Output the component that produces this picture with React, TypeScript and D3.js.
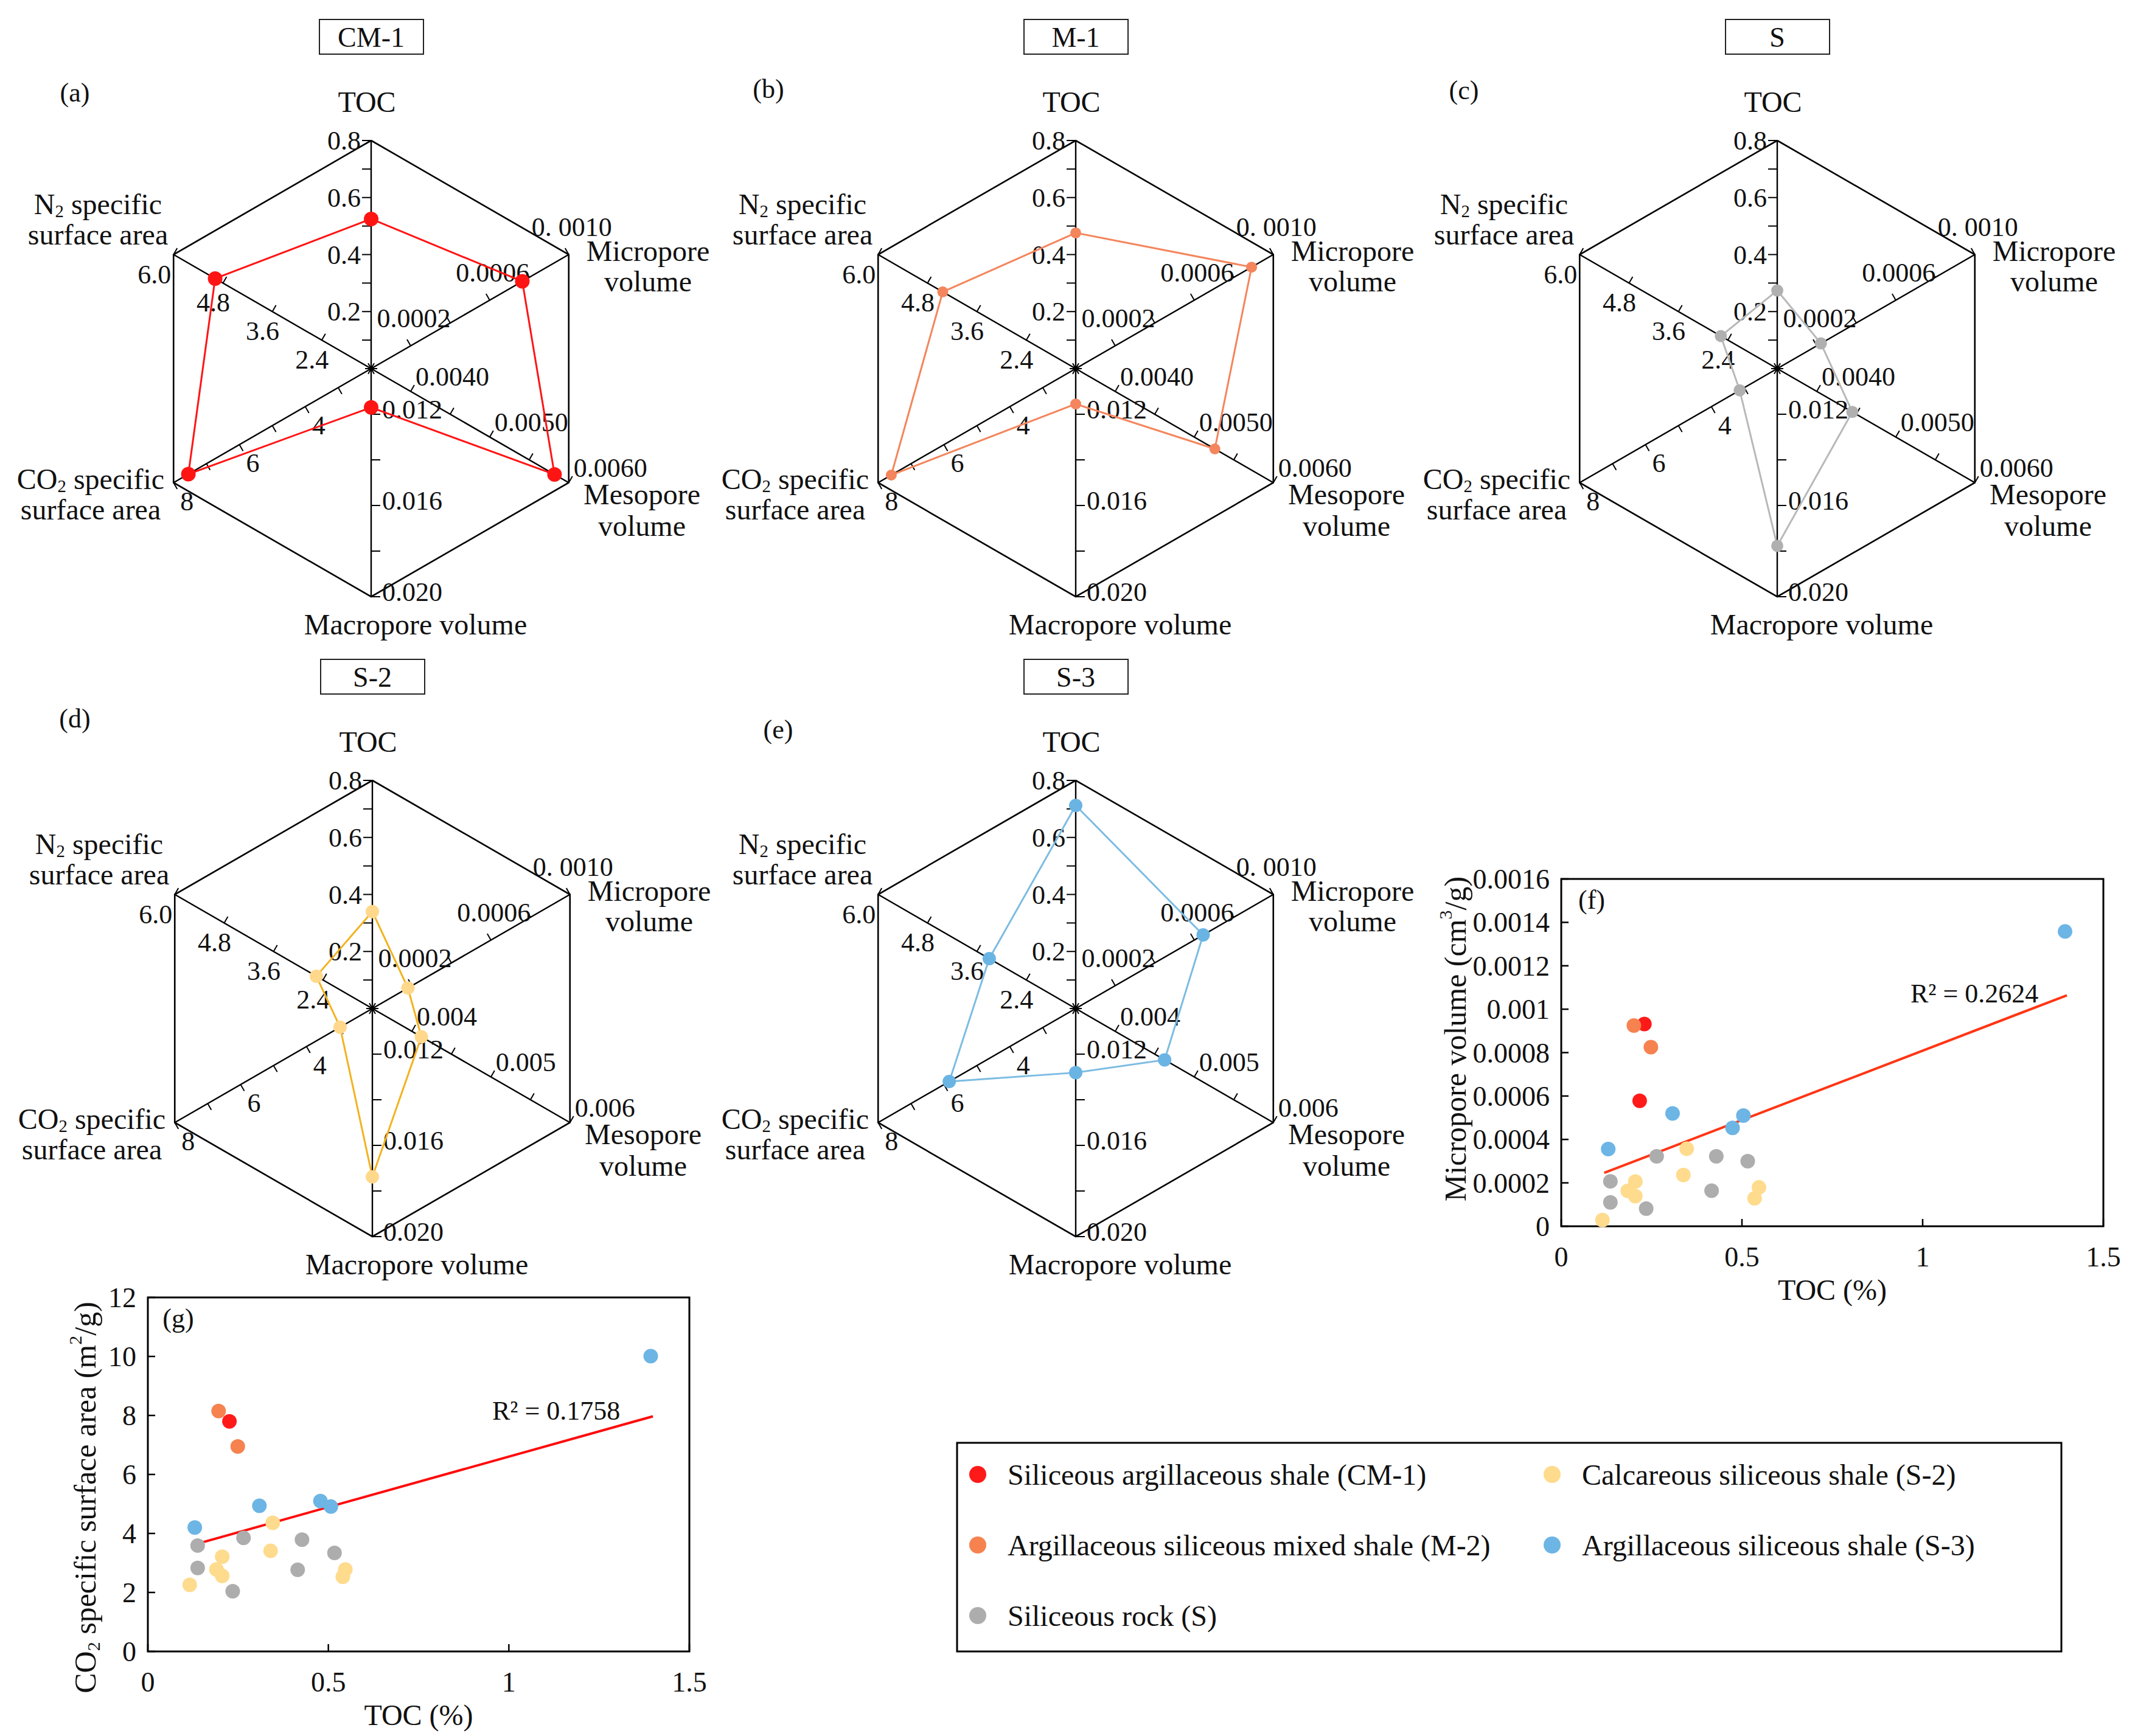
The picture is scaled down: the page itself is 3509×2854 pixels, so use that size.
import { useEffect, useRef } from 'react';
import * as d3 from 'd3';

const W = 3509;
const H = 2854;
const FONT = "'Liberation Serif', 'Times New Roman', 'DejaVu Serif', serif";

// ---- radar panels (group averages) ----
const radarTitles = ['CM-1', 'M-1', 'S', 'S-2', 'S-3'];
const radarLetters = ['(a)', '(b)', '(c)', '(d)', '(e)'];
const tocAvg = [0.525, 0.476, 0.274, 0.34, 0.712];
const microAvg = [0.000765, 0.00089, 0.000221, 0.00018, 0.000645];
const mesoAvg = [0.00582, 0.00526, 0.00445, 0.00412, 0.004625];
const macroAvg = [0.0117, 0.01155, 0.01777, 0.01738, 0.01281];
const co2Avg = [7.55, 7.6, 3.14, 2.98, 5.84];
const n2Avg = [4.99, 4.43, 2.57, 2.56, 3.3];

// axis order: TOC, micropore, mesopore, macropore, CO2, N2
const axisDomains: [number, number][] = [
  [0, 0.8],
  [0, 0.001],
  [0.0035, 0.006],
  [0.01, 0.02],
  [2, 8],
  [1.2, 6.0],
];
const axisTickCounts = [8, 5, 5, 5, 6, 4];
const tocTicks = [0.2, 0.4, 0.6, 0.8];
const tocTickLabels = ['0.2', '0.4', '0.6', '0.8'];
const microTicks = [0.0002, 0.0006, 0.001];
const microTickLabels = ['0.0002', '0.0006', '0. 0010'];
const mesoTicks = [0.004, 0.005, 0.006];
const mesoTickLabelsLong = ['0.0040', '0.0050', '0.0060'];
const mesoTickLabelsShort = ['0.004', '0.005', '0.006'];
const macroTicks = [0.012, 0.016, 0.02];
const macroTickLabels = ['0.012', '0.016', '0.020'];
const co2Ticks = [4, 6, 8];
const co2TickLabels = ['4', '6', '8'];
const n2Ticks = [2.4, 3.6, 4.8, 6.0];
const n2TickLabels = ['2.4', '3.6', '4.8', '6.0'];

// ---- scatter groups ----
const groupNames = [
  'Siliceous argillaceous shale (CM-1)',
  'Argillaceous siliceous mixed shale (M-2)',
  'Siliceous rock (S)',
  'Calcareous siliceous shale (S-2)',
  'Argillaceous siliceous shale (S-3)',
];
const groupColors = ['#ff1a1a', '#f5824f', '#adadad', '#fedb8d', '#6db5e5'];

// (f) TOC vs micropore volume
const microCM1: [number, number][] = [[0.23, 0.000932], [0.217, 0.000578]];
const microM2: [number, number][] = [[0.201, 0.000925], [0.248, 0.000825]];
const microS: [number, number][] = [
  [0.136, 0.000207], [0.136, 0.00011], [0.235, 0.0000815], [0.264, 0.000322],
  [0.429, 0.000322], [0.416, 0.000164], [0.516, 0.0003],
];
const microS2: [number, number][] = [
  [0.114, 0.0000286], [0.184, 0.000163], [0.205, 0.000206], [0.205, 0.000139],
  [0.347, 0.000357], [0.338, 0.000236], [0.535, 0.000129], [0.547, 0.000179],
];
const microS3: [number, number][] = [
  [1.394, 0.001358], [0.13, 0.000356], [0.308, 0.00052], [0.474, 0.000453], [0.504, 0.00051],
];
const microFit: [number, number][] = [[0.119, 0.000246], [1.399, 0.001064]];
const microR2 = 'R² = 0.2624';

// (g) TOC vs CO2 specific surface area
const co2CM1: [number, number][] = [[0.226, 7.8]];
const co2M2: [number, number][] = [[0.196, 8.15], [0.249, 6.95]];
const co2S: [number, number][] = [
  [0.138, 3.59], [0.138, 2.83], [0.235, 2.04], [0.265, 3.85], [0.427, 3.79],
  [0.415, 2.77], [0.517, 3.34],
];
const co2S2: [number, number][] = [
  [0.116, 2.26], [0.19, 2.78], [0.206, 3.21], [0.206, 2.56], [0.346, 4.36],
  [0.34, 3.41], [0.54, 2.53], [0.547, 2.78],
];
const co2S3: [number, number][] = [
  [1.393, 10.01], [0.13, 4.2], [0.309, 4.94], [0.478, 5.1], [0.507, 4.91],
];
const co2Fit: [number, number][] = [[0.119, 3.59], [1.399, 7.97]];
const co2R2 = 'R² = 0.1758';

const xTicks = [0, 0.5, 1, 1.5];
const xTickLabels = ['0', '0.5', '1', '1.5'];
const microYTicks = [0, 0.0002, 0.0004, 0.0006, 0.0008, 0.001, 0.0012, 0.0014, 0.0016];
const microYTickLabels = ['0', '0.0002', '0.0004', '0.0006', '0.0008', '0.001', '0.0012', '0.0014', '0.0016'];
const co2YTicks = [0, 2, 4, 6, 8, 10, 12];
const co2YTickLabels = ['0', '2', '4', '6', '8', '10', '12'];

// layout
const R = 375;
const panelCenters: [number, number][] = [[610, 606], [1768, 606], [2921, 606], [612, 1658], [1768, 1658]];
const letterPos: [number, number][] = [[123, 152], [1263, 146], [2406, 148], [123, 1181], [1279, 1199]];
const lineColors = ['#ff1414', '#f4855c', '#b8b8b8', '#f3b21f', '#7dbce2'];
const dotColors = ['#ff1414', '#f4855c', '#b0b0b0', '#ffd88c', '#6ab4e4'];
const dotRadius = [12, 9, 10, 11, 11];
const axisAngles = [90, 30, -30, -90, 210, 150];
const tickSide = [1, 1, 1, 1, 1, -1];

type Sel = d3.Selection<SVGGElement, unknown, null, undefined>;

function addText(
  g: Sel,
  x: number,
  y: number,
  parts: { t: string; sub?: boolean; sup?: boolean }[],
  size: number,
  anchor = 'middle',
) {
  const t = g
    .append('text')
    .attr('x', x)
    .attr('y', y)
    .attr('text-anchor', anchor)
    .attr('dominant-baseline', 'central')
    .style('font-family', FONT)
    .attr('font-size', size)
    .attr('fill', '#111');
  let shift = 0;
  parts.forEach((p) => {
    const target = p.sub ? size * 0.25 : p.sup ? -size * 0.35 : 0;
    t.append('tspan')
      .attr('dy', target - shift)
      .attr('font-size', p.sub || p.sup ? size * 0.6 : size)
      .text(p.t);
    shift = target;
  });
  return t;
}

function drawRadar(g: Sel, i: number) {
  const [cx, cy] = panelCenters[i];
  const values = [tocAvg[i], microAvg[i], mesoAvg[i], macroAvg[i], co2Avg[i], n2Avg[i]];
  const scales = axisDomains.map((d) => d3.scaleLinear().domain(d).range([0, R]));
  const pt = (k: number, r: number): [number, number] => {
    const a = (axisAngles[k] * Math.PI) / 180;
    return [cx + r * Math.cos(a), cy - r * Math.sin(a)];
  };

  // title box
  g.append('rect')
    .attr('x', cx - 85)
    .attr('y', cy - 574)
    .attr('width', 171)
    .attr('height', 57)
    .attr('fill', 'none')
    .attr('stroke', '#222')
    .attr('stroke-width', 2);
  addText(g, cx, cy - 545, [{ t: radarTitles[i] }], 46);
  addText(g, letterPos[i][0], letterPos[i][1], [{ t: radarLetters[i] }], 44);

  // hexagon and spokes
  const verts = axisAngles.map((_, k) => pt(k, R));
  g.append('path')
    .attr('d', d3.line()([...verts, verts[0]]) ?? '')
    .attr('fill', 'none')
    .attr('stroke', '#000')
    .attr('stroke-width', 2.6)
    .attr('stroke-linejoin', 'miter');
  verts.forEach((v) => {
    g.append('line')
      .attr('x1', cx).attr('y1', cy).attr('x2', v[0]).attr('y2', v[1])
      .attr('stroke', '#000').attr('stroke-width', 2.4);
  });
  // centre star
  [0, 60, 120].forEach((a) => {
    const r = (a * Math.PI) / 180;
    g.append('line')
      .attr('x1', cx - 10 * Math.cos(r)).attr('y1', cy - 10 * Math.sin(r))
      .attr('x2', cx + 10 * Math.cos(r)).attr('y2', cy + 10 * Math.sin(r))
      .attr('stroke', '#000').attr('stroke-width', 2);
  });

  // ticks
  axisTickCounts.forEach((n, k) => {
    const a = ((axisAngles[k] + 90 * tickSide[k]) * Math.PI) / 180;
    const len = k === 0 || k === 3 ? 15 : 12;
    d3.range(1, n + 1).forEach((j) => {
      const [x, y] = pt(k, (R * j) / n);
      g.append('line')
        .attr('x1', x).attr('y1', y)
        .attr('x2', x + len * Math.cos(a)).attr('y2', y - len * Math.sin(a))
        .attr('stroke', '#000').attr('stroke-width', 2);
    });
  });

  // tick labels
  const TS = 44;
  tocTicks.forEach((v, j) => {
    const [x, y] = pt(0, scales[0](v));
    addText(g, x - 17, y, [{ t: tocTickLabels[j] }], TS, 'end');
  });
  microTicks.forEach((v, j) => {
    const [x, y] = pt(1, scales[1](v));
    addText(g, x + 5, y - 46, [{ t: microTickLabels[j] }], TS);
  });
  const mesoLabels = i >= 3 ? mesoTickLabelsShort : mesoTickLabelsLong;
  mesoTicks.forEach((v, j) => {
    const [x, y] = pt(2, scales[2](v));
    addText(g, x + 8, y - 25, [{ t: mesoLabels[j] }], TS, 'start');
  });
  macroTicks.forEach((v, j) => {
    const [x, y] = pt(3, scales[3](v));
    addText(g, x + 18, y - 8, [{ t: macroTickLabels[j] }], TS, 'start');
  });
  co2Ticks.forEach((v, j) => {
    const [x, y] = pt(4, scales[4](v));
    addText(g, x + 22, y + 30, [{ t: co2TickLabels[j] }], TS);
  });
  n2Ticks.forEach((v, j) => {
    const [x, y] = pt(5, scales[5](v));
    if (j === n2Ticks.length - 1) addText(g, x - 4, y + 32, [{ t: n2TickLabels[j] }], TS, 'end');
    else addText(g, x - 16, y + 32, [{ t: n2TickLabels[j] }], TS);
  });

  // axis names
  const NS = 48;
  addText(g, cx - 7, cy - 439, [{ t: 'TOC' }], NS);
  addText(g, cx + 455, cy - 194, [{ t: 'Micropore' }], NS);
  addText(g, cx + 455, cy - 144, [{ t: 'volume' }], NS);
  addText(g, cx + 445, cy + 206, [{ t: 'Mesopore' }], NS);
  addText(g, cx + 445, cy + 258, [{ t: 'volume' }], NS);
  addText(g, cx + 73, cy + 420, [{ t: 'Macropore volume' }], NS);
  addText(g, cx - 461, cy + 181, [{ t: 'CO' }, { t: '2', sub: true }, { t: ' specific' }], NS);
  addText(g, cx - 461, cy + 231, [{ t: 'surface area' }], NS);
  addText(g, cx - 449, cy - 271, [{ t: 'N' }, { t: '2', sub: true }, { t: ' specific' }], NS);
  addText(g, cx - 449, cy - 221, [{ t: 'surface area' }], NS);

  // data polygon
  const pts = values.map((v, k) => pt(k, scales[k](v)));
  g.append('path')
    .attr('d', d3.line()([...pts, pts[0]]) ?? '')
    .attr('fill', 'none')
    .attr('stroke', lineColors[i])
    .attr('stroke-width', 3);
  g.selectAll('circle.rd')
    .data(pts)
    .join('circle')
    .attr('class', 'rd')
    .attr('cx', (d) => d[0])
    .attr('cy', (d) => d[1])
    .attr('r', dotRadius[i])
    .attr('fill', dotColors[i]);
}

interface ScatterOpts {
  x0: number; x1: number; y0: number; y1: number;
  yMax: number; yTicks: number[]; yLabels: string[];
  groups: [number, number][][]; fit: [number, number][]; r2: string; r2x: number; r2y: number;
  letter: string; yTitle: { t: string; sub?: boolean; sup?: boolean }[]; yTitleX: number; yTitleY: number;
  fitColor: string;
}

function drawScatter(g: Sel, o: ScatterOpts) {
  const x = d3.scaleLinear().domain([0, 1.5]).range([o.x0, o.x1]);
  const y = d3.scaleLinear().domain([0, o.yMax]).range([o.y0, o.y1]);
  g.append('rect')
    .attr('x', o.x0).attr('y', o.y1)
    .attr('width', o.x1 - o.x0).attr('height', o.y0 - o.y1)
    .attr('fill', 'none').attr('stroke', '#000').attr('stroke-width', 3);
  xTicks.forEach((v, j) => {
    g.append('line')
      .attr('x1', x(v)).attr('x2', x(v)).attr('y1', o.y0).attr('y2', o.y0 - 12)
      .attr('stroke', '#000').attr('stroke-width', 2.5);
    addText(g, x(v), o.y0 + 50, [{ t: xTickLabels[j] }], 46);
  });
  o.yTicks.forEach((v, j) => {
    g.append('line')
      .attr('x1', o.x0).attr('x2', o.x0 + 12).attr('y1', y(v)).attr('y2', y(v))
      .attr('stroke', '#000').attr('stroke-width', 2.5);
    addText(g, o.x0 - 19, y(v), [{ t: o.yLabels[j] }], 46, 'end');
  });
  addText(g, (o.x0 + o.x1) / 2, o.y0 + 104, [{ t: 'TOC (%)' }], 48);
  const yt = addText(g, 0, 0, o.yTitle, 50);
  yt.attr('transform', `translate(${o.yTitleX},${o.yTitleY}) rotate(-90)`);
  addText(g, o.x0 + 50, o.y1 + 34, [{ t: o.letter }], 44);

  g.append('path')
    .attr('d', d3.line().x((d) => x(d[0])).y((d) => y(d[1]))(o.fit) ?? '')
    .attr('stroke', o.fitColor).attr('stroke-width', 4).attr('fill', 'none');
  o.groups.forEach((pts, gi) => {
    g.append('g')
      .selectAll('circle')
      .data(pts)
      .join('circle')
      .attr('cx', (d) => x(d[0]))
      .attr('cy', (d) => y(d[1]))
      .attr('r', 12)
      .attr('fill', groupColors[gi]);
  });
  addText(g, o.r2x, o.r2y, [{ t: o.r2 }], 44, 'start');
}

function drawLegend(g: Sel) {
  g.append('rect')
    .attr('x', 1573).attr('y', 2372).attr('width', 1815).attr('height', 343)
    .attr('fill', 'none').attr('stroke', '#000').attr('stroke-width', 3);
  const cols = [1607, 2551];
  const rows = [2424, 2540, 2656];
  const slots: [number, number][] = [[0, 0], [0, 1], [0, 2], [1, 0], [1, 1]];
  groupNames.forEach((name, gi) => {
    const [c, r] = slots[gi];
    g.append('circle')
      .attr('cx', cols[c]).attr('cy', rows[r]).attr('r', 14)
      .attr('fill', groupColors[gi]);
    addText(g, cols[c] + 49, rows[r], [{ t: name }], 48, 'start');
  });
}

export default function App() {
  const svgRef = useRef<SVGSVGElement>(null);

  useEffect(() => {
    if (!svgRef.current) return;
    const svg = d3.select(svgRef.current);
    svg.selectAll('*').remove();
    svg.append('rect').attr('width', W).attr('height', H).attr('fill', '#fff');
    const root = svg.append('g') as Sel;

    radarTitles.forEach((_, i) => drawRadar(root.append('g') as Sel, i));

    drawScatter(root.append('g') as Sel, {
      x0: 2566, x1: 3457, y0: 2016, y1: 1445,
      yMax: 0.0016, yTicks: microYTicks, yLabels: microYTickLabels,
      groups: [microCM1, microM2, microS, microS2, microS3],
      fit: microFit, r2: microR2, r2x: 3140, r2y: 1633, letter: '(f)',
      yTitle: [{ t: 'Micropore volume (cm' }, { t: '3', sup: true }, { t: '/g)' }],
      yTitleX: 2392, yTitleY: 1708, fitColor: '#ff3514',
    });
    drawScatter(root.append('g') as Sel, {
      x0: 243, x1: 1133, y0: 2715, y1: 2133,
      yMax: 12, yTicks: co2YTicks, yLabels: co2YTickLabels,
      groups: [co2CM1, co2M2, co2S, co2S2, co2S3],
      fit: co2Fit, r2: co2R2, r2x: 809, r2y: 2319, letter: '(g)',
      yTitle: [{ t: 'CO' }, { t: '2', sub: true }, { t: ' specific surface area (m' }, { t: '2', sup: true }, { t: '/g)' }],
      yTitleX: 140, yTitleY: 2462, fitColor: '#ff0a0a',
    });
    drawLegend(root.append('g') as Sel);
  }, []);

  return (
    <svg
      ref={svgRef}
      width={W}
      height={H}
      style={{ position: 'absolute', left: 0, top: 0, display: 'block', fontFamily: FONT }}
    />
  );
}
